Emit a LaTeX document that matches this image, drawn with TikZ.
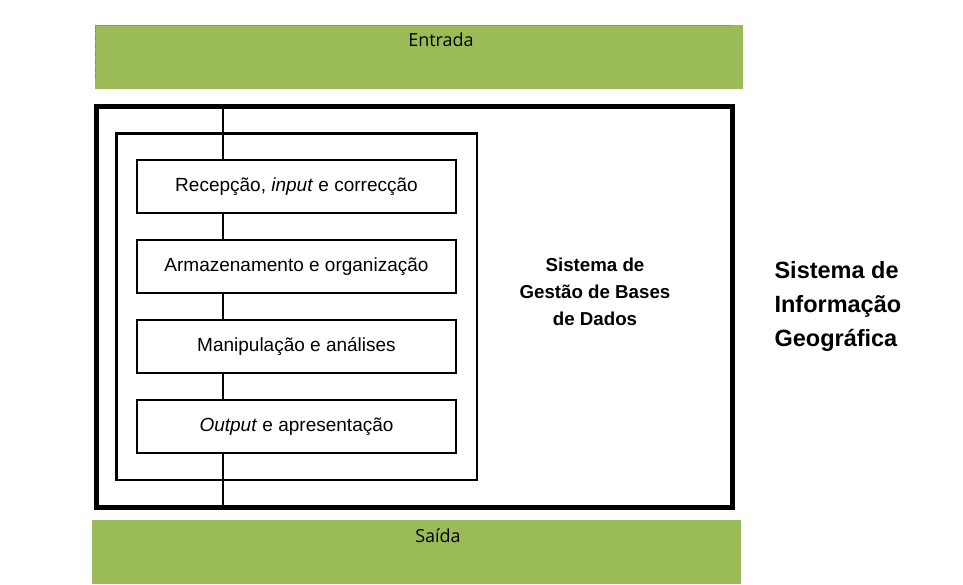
\documentclass[tikz,border=0pt]{standalone}
\usepackage{fontspec}
\setmainfont{Liberation Sans}
\newfontfamily\barfont{Open Sans}
\usetikzlibrary{positioning}
\definecolor{barra}{HTML}{9BBB59}

\begin{document}
\begin{tikzpicture}[
x=1pt, y=-1pt,
node distance=27pt,
etapa/.style={draw, rectangle, line width=1.8pt,
minimum width=319pt,
minimum height=53pt,
inner sep=0pt, outer sep=0pt,
font=\fontsize{19}{22}\selectfont,
align=center},
quadro/.style={draw, rectangle, inner sep=0pt, outer sep=0pt, anchor=north west},
barra/.style={fill=barra, draw=none, rectangle, inner sep=0pt, outer sep=0pt, anchor=north west},
rotulo/.style={font=\barfont\fontsize{18}{20}\selectfont, anchor=center},
eixo/.style={line width=1.6pt}
]

\useasboundingbox[fill=white] (0,0) rectangle (963,584);

% barras de entrada e saida
\node[barra, minimum width=648pt, minimum height=64pt] (entrada) at (95,25) {};
\node[rotulo] (txtentrada) at (441,40) {Entrada};
\draw[densely dotted, gray, line width=0.6pt] (entrada.north west) -- (733,25);
\draw[densely dotted, gray, line width=0.6pt] (entrada.north west) -- (95,78);
\node[barra, minimum width=649pt, minimum height=64pt] (saida) at (92,520) {};
\node[rotulo] (txtsaida) at (438,536) {Saída};

% caixas
\node[quadro, line width=4.5pt, minimum width=636pt, minimum height=401pt] (sig) at (96.5,106.5) {};
\node[quadro, line width=2.8pt, minimum width=360.5pt, minimum height=346.5pt] (sgbd) at (116.5,133.5) {};

\node[etapa, anchor=north west] (rec) at (137,160) {Recepção, \textit{input} e correcção};
\node[etapa, below=of rec] (arm) {Armazenamento e organização};
\node[etapa, below=of arm] (man) {Manipulação e análises};
\node[etapa, below=of man] (out) {\textit{Output} e apresentação};

\coordinate (topo) at (223,106.5);
\coordinate (base) at (223,507.5);

\draw[eixo] (topo) -- (topo |- rec.north);
\draw[eixo] (rec.south -| topo) -- (arm.north -| topo);
\draw[eixo] (arm.south -| topo) -- (man.north -| topo);
\draw[eixo] (man.south -| topo) -- (out.north -| topo);
\draw[eixo] (out.south -| topo) -- (base);

% textos laterais
\node[font=\bfseries\fontsize{18.7}{27}\selectfont, align=center] (txtsgbd) at (595,292)
{Sistema de\\Gestão de Bases\\de Dados};
\node[font=\bfseries\fontsize{23.5}{34}\selectfont, align=left, anchor=west] (txtsig) at (771,306)
{Sistema de\\Informação\\Geográfica};

\end{tikzpicture}
\end{document}
